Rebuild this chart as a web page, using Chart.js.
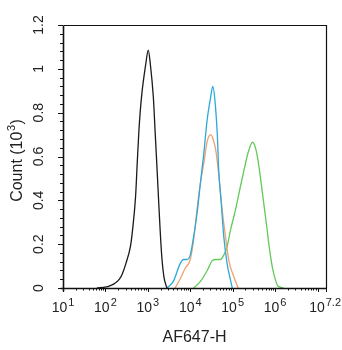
<!DOCTYPE html>
<html>
<head>
<meta charset="utf-8">
<script src="https://cdn.jsdelivr.net/npm/chart.js@4.4.0/dist/chart.umd.min.js"></script>
<style>
  html, body { margin: 0; padding: 0; background: #fff; }
  #wrap { position: relative; width: 342px; height: 350px; }
</style>
</head>
<body>
<div id="wrap"><canvas id="histo"></canvas></div>
<script>
// AF647-H as log10 exponents, counts in 10^3
const blackExp = [1.80, 2.02, 2.10, 2.21, 2.33, 2.40, 2.48, 2.59, 2.64, 2.71, 2.75, 2.79, 2.85, 2.95, 3.01, 3.06, 3.13, 3.17, 3.21, 3.25, 3.29, 3.33, 3.38, 3.45];
const blackCount = [0, 0.005, 0.01, 0.02, 0.04, 0.065, 0.11, 0.19, 0.265, 0.415, 0.57, 0.72, 0.87, 1.02, 1.085, 1.02, 0.87, 0.72, 0.57, 0.415, 0.265, 0.14, 0.05, 0];

const cyanExp = [3.45, 3.60, 3.76, 3.84, 3.92, 4.00, 4.08, 4.16, 4.24, 4.32, 4.40, 4.48, 4.53, 4.58, 4.64, 4.67, 4.73, 4.79, 4.87, 4.95, 4.99];
const cyanCount = [0, 0.03, 0.11, 0.13, 0.13, 0.15, 0.235, 0.34, 0.48, 0.615, 0.77, 0.87, 0.92, 0.86, 0.69, 0.54, 0.39, 0.235, 0.11, 0.035, 0];

const orangeExp = [3.64, 3.76, 3.88, 4.00, 4.08, 4.16, 4.24, 4.32, 4.40, 4.48, 4.52, 4.60, 4.67, 4.75, 4.83, 4.91, 5.03, 5.13];
const orangeCount = [0, 0.04, 0.09, 0.13, 0.22, 0.36, 0.48, 0.57, 0.67, 0.70, 0.69, 0.63, 0.52, 0.36, 0.235, 0.125, 0.05, 0];

const greenExp = [4.08, 4.24, 4.40, 4.52, 4.60, 4.71, 4.79, 4.87, 4.95, 5.07, 5.19, 5.27, 5.36, 5.47, 5.55, 5.63, 5.71, 5.79, 5.87, 5.95, 6.02, 6.06, 6.20];
const greenCount = [0, 0.03, 0.08, 0.125, 0.13, 0.13, 0.15, 0.19, 0.265, 0.36, 0.47, 0.54, 0.615, 0.665, 0.63, 0.54, 0.42, 0.30, 0.175, 0.08, 0.03, 0.01, 0];

const xTickExps = [1, 2, 3, 4, 5, 6, 7, 7.2];
const xTickLabels = ['1', '2', '3', '4', '5', '6', '', '7.2'];
const yTicks = [0, 0.2, 0.4, 0.6, 0.8, 1, 1.2];
const yTickLabels = ['0', '0.2', '0.4', '0.6', '0.8', '1', '1.2'];

const FONT = '"Liberation Sans", Arial, sans-serif';

function toPoints(exps, counts) {
  return exps.map((e, i) => ({ x: Math.pow(10, e), y: counts[i] }));
}

function series(exps, counts, color) {
  return {
    data: toPoints(exps, counts),
    borderColor: color,
    borderWidth: 1.3,
    pointRadius: 0,
    fill: false,
    tension: 0.3,
    cubicInterpolationMode: 'monotone'
  };
}

// axes drawn by hand: flow-cytometry style minor ticks and 10^n labels
const flowAxes = {
  id: 'flowAxes',
  afterDraw(chart) {
    const { ctx, chartArea: a, scales: { x, y } } = chart;
    const px = v => Math.round(v) + 0.5;
    ctx.save();
    ctx.strokeStyle = '#111';

    ctx.lineWidth = 1.2;
    ctx.beginPath();
    ctx.moveTo(px(a.left), px(a.top));
    ctx.lineTo(px(a.right), px(a.top));
    ctx.lineTo(px(a.right), px(a.bottom));
    ctx.stroke();

    ctx.lineWidth = 1.6;
    ctx.beginPath();
    ctx.moveTo(px(a.left), px(a.top));
    ctx.lineTo(px(a.left), px(a.bottom) + 3);
    ctx.moveTo(px(a.left) - 3, px(a.bottom));
    ctx.lineTo(px(a.right), px(a.bottom));
    ctx.stroke();

    // x ticks
    ctx.lineWidth = 1;
    ctx.beginPath();
    xTickExps.forEach(e => {
      const xp = px(x.getPixelForValue(Math.pow(10, e)));
      ctx.moveTo(xp, a.bottom);
      ctx.lineTo(xp, a.bottom + 4);
    });
    for (let d = 1; d < 7.2; d++) {
      for (let k = 2; k <= 9; k++) {
        const v = k * Math.pow(10, d);
        if (Math.log10(v) > 7.2) continue;
        const xp = px(x.getPixelForValue(v));
        ctx.moveTo(xp, a.bottom);
        ctx.lineTo(xp, a.bottom + 2.5);
      }
    }
    // y ticks
    for (let i = 0; i <= 30; i++) {
      const v = i * 0.04;
      const yp = px(y.getPixelForValue(v));
      const len = i % 5 === 0 ? 5 : 3;
      ctx.moveTo(a.left, yp);
      ctx.lineTo(a.left - len, yp);
    }
    ctx.stroke();

    ctx.fillStyle = '#222';
    ctx.textBaseline = 'alphabetic';

    // x tick labels 10^n
    xTickExps.forEach((e, i) => {
      const sup = xTickLabels[i];
      if (!sup) return;
      ctx.font = '14px ' + FONT;
      const wb = ctx.measureText('10').width;
      ctx.font = '11px ' + FONT;
      const ws = ctx.measureText(sup).width;
      const c = x.getPixelForValue(Math.pow(10, e));
      let left = c - (wb + ws + 1) / 2;
      if (left + wb + ws + 1 > 341) left = 341 - (wb + ws + 1);
      ctx.font = '14px ' + FONT;
      ctx.textAlign = 'left';
      ctx.fillText('10', left, 312);
      ctx.font = '11px ' + FONT;
      ctx.fillText(sup, left + wb + 1, 306);
    });

    // y tick labels, rotated
    ctx.font = '14px ' + FONT;
    ctx.textAlign = 'center';
    yTicks.forEach((v, i) => {
      const yp = y.getPixelForValue(v);
      ctx.save();
      ctx.translate(43, yp);
      ctx.rotate(-Math.PI / 2);
      ctx.fillText(yTickLabels[i], 0, 0);
      ctx.restore();
    });

    // axis titles
    ctx.font = '16px ' + FONT;
    ctx.textAlign = 'center';
    ctx.fillText('AF647-H', (a.left + a.right) / 2, 342);

    ctx.save();
    ctx.translate(22, (a.top + a.bottom) / 2 + 4);
    ctx.rotate(-Math.PI / 2);
    ctx.font = '16px ' + FONT;
    const t1 = 'Count (10';
    const w1 = ctx.measureText(t1).width;
    ctx.font = '11px ' + FONT;
    const w2 = ctx.measureText('3').width;
    ctx.font = '16px ' + FONT;
    const w3 = ctx.measureText(')').width;
    const sx = -(w1 + w2 + w3 + 1) / 2;
    ctx.textAlign = 'left';
    ctx.fillText(t1, sx, 0);
    ctx.font = '11px ' + FONT;
    ctx.fillText('3', sx + w1 + 0.5, -7);
    ctx.font = '16px ' + FONT;
    ctx.fillText(')', sx + w1 + w2 + 1, 0);
    ctx.restore();

    ctx.restore();
  }
};

new Chart(document.getElementById('histo'), {
  type: 'line',
  data: {
    datasets: [
      series(blackExp, blackCount, '#1a1a1a'),
      series(cyanExp, cyanCount, '#2aa9dc'),
      series(orangeExp, orangeCount, '#f2a06c'),
      series(greenExp, greenCount, '#62c95a')
    ]
  },
  options: {
    responsive: true,
    maintainAspectRatio: false,
    animation: false,
    layout: { padding: { left: 63, top: 25, right: 16, bottom: 62 } },
    plugins: { legend: { display: false }, tooltip: { enabled: false } },
    scales: {
      x: { type: 'logarithmic', min: 10, max: Math.pow(10, 7.2), display: false },
      y: { type: 'linear', min: 0, max: 1.2, display: false }
    }
  },
  plugins: [flowAxes]
});
</script>
</body>
</html>
